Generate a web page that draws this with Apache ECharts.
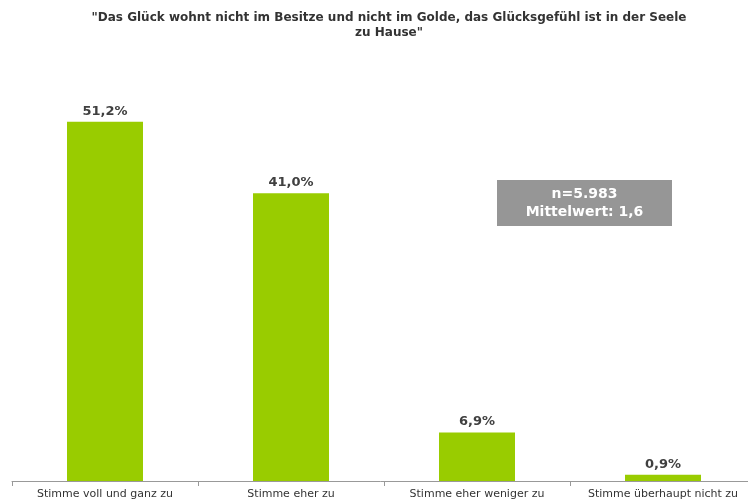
<!DOCTYPE html>
<html>
<head>
<meta charset="utf-8">
<script src="https://cdn.jsdelivr.net/npm/echarts@6/dist/echarts.min.js"></script>
<style>
    html, body { margin: 0; padding: 0; background: #fff; }
    #chart { width: 748px; height: 504px; }
</style>
</head>
<body>
<div id="chart"></div>
<script>
    var categories = ['Stimme voll und ganz zu', 'Stimme eher zu', 'Stimme eher weniger zu', 'Stimme überhaupt nicht zu'];
    var values = [51.2, 41.0, 6.9, 0.9];
    var titleText = '"Das Glück wohnt nicht im Besitze und nicht im Golde, das Glücksgefühl ist in der Seele\nzu Hause"';
    var infoText = 'n=5.983\nMittelwert: 1,6';

    var chart = echarts.init(document.getElementById('chart'));
    chart.setOption({
        animation: false,
        title: {
            text: titleText,
            left: 384,
            textAlign: 'center',
            top: 5,
            textStyle: {
                fontFamily: 'DejaVu Sans',
                fontSize: 12,
                fontWeight: 'bold',
                color: '#333',
                lineHeight: 15
            }
        },
        grid: { left: 12, width: 744, top: 60, bottom: 23, outerBoundsMode: 'none' },
        xAxis: {
            type: 'category',
            data: categories,
            axisLine: { lineStyle: { color: '#999' } },
            axisTick: { show: true, lineStyle: { color: '#999' } },
            axisLabel: {
                interval: 0,
                hideOverlap: false,
                fontFamily: 'DejaVu Sans',
                fontSize: 11,
                color: '#333',
                margin: 8
            }
        },
        yAxis: {
            type: 'value',
            min: 0,
            max: 60,
            show: false,
            splitLine: { show: false }
        },
        series: [{
            type: 'bar',
            data: values,
            barWidth: 76,
            itemStyle: { color: '#99CC00' },
            label: {
                show: true,
                position: 'top',
                distance: 4,
                formatter: function (p) { return p.value.toFixed(1).replace('.', ',') + '%'; },
                fontFamily: 'DejaVu Sans',
                fontSize: 13,
                fontWeight: 'bold',
                color: '#404040'
            }
        }],
        graphic: [{
            type: 'group',
            left: 497,
            top: 180,
            children: [{
                type: 'rect',
                shape: { x: 0, y: 0, width: 175, height: 46 },
                style: { fill: '#969696' }
            }, {
                type: 'text',
                x: 87.5,
                y: 23,
                style: {
                    text: infoText,
                    fill: '#fff',
                    font: 'bold 14px DejaVu Sans',
                    align: 'center',
                    verticalAlign: 'middle',
                    lineHeight: 18
                }
            }]
        }]
    });
</script>
</body>
</html>
